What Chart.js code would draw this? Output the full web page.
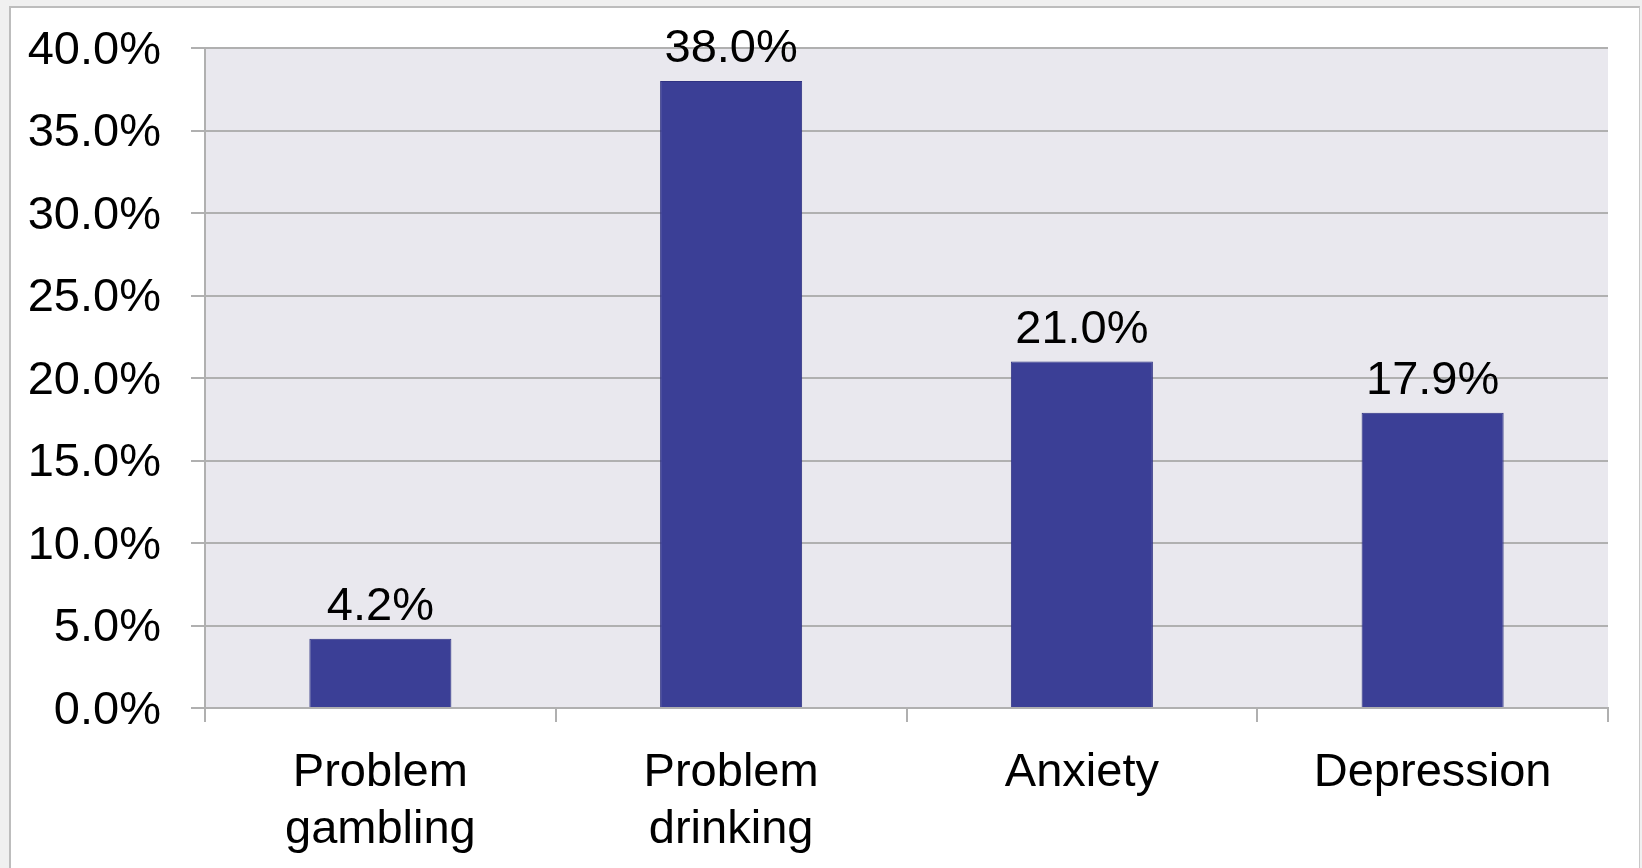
<!DOCTYPE html>
<html>
<head>
<meta charset="utf-8">
<script src="https://cdn.jsdelivr.net/npm/chart.js@4"></script>
<style>
  html, body { margin: 0; padding: 0; background: #f0f0f0; }
  body { width: 1642px; height: 868px; position: relative; overflow: hidden; }
  #panel {
    position: absolute; left: 9px; top: 6px; width: 1631px; height: 862px;
    background: #fff; border-left: 2px solid #bdbdbd; border-top: 2px solid #bdbdbd;
    border-right: 1px solid #c8c8c8; box-sizing: border-box;
  }
  #chart { position: absolute; left: 0; top: 0; }
</style>
</head>
<body>
<div id="panel"></div>
<canvas id="chart" width="1642" height="868"></canvas>
<script>
const categories = [['Problem', 'gambling'], ['Problem', 'drinking'], 'Anxiety', 'Depression'];
const values = [4.2, 38.0, 21.0, 17.9];
const yTicks = [0, 5, 10, 15, 20, 25, 30, 35, 40];

const FONT = '"Liberation Sans", Arial, sans-serif';

// grey plot background
const plotBg = {
    id: 'plotBg',
    beforeDraw(chart) {
        const { ctx, chartArea: a } = chart;
        ctx.save();
        ctx.fillStyle = '#e9e8ee';
        ctx.fillRect(a.left, a.top, a.right - a.left, a.bottom - a.top);
        ctx.restore();
    }
};

// value labels above bars
const barLabels = {
    id: 'barLabels',
    afterDatasetsDraw(chart) {
        const ctx = chart.ctx;
        const meta = chart.getDatasetMeta(0);
        ctx.save();
        ctx.font = '47px ' + FONT;
        ctx.fillStyle = '#000';
        ctx.textAlign = 'center';
        ctx.textBaseline = 'alphabetic';
        meta.data.forEach((bar, i) => {
            ctx.fillText(values[i].toFixed(1) + '%', bar.x, bar.y - 19);
        });
        ctx.restore();
    }
};

new Chart(document.getElementById('chart'), {
    type: 'bar',
    data: {
        labels: categories,
        datasets: [{
            data: values,
            backgroundColor: '#3b3f96',
            borderColor: '#2f3282',
            borderWidth: 1,
            categoryPercentage: 1,
            barPercentage: 0.405
        }]
    },
    options: {
        responsive: false,
        animation: false,
        devicePixelRatio: 1,
        layout: { padding: { top: 48, right: 34, left: 0, bottom: 0 } },
        plugins: { legend: { display: false }, tooltip: { enabled: false } },
        scales: {
            x: {
                grid: {
                    drawOnChartArea: false,
                    drawTicks: true,
                    tickLength: 14,
                    color: '#b0b0b0',
                    lineWidth: 2
                },
                border: { display: true, color: '#b0b0b0', width: 2 },
                ticks: {
                    color: '#000',
                    padding: 22,
                    maxRotation: 0,
                    autoSkip: false,
                    font: { family: FONT, size: 47, lineHeight: 1.22 }
                },
                afterFit(scale) {
                    scale.height = 160;
                    scale.paddingLeft = 0;
                    scale.paddingRight = 0;
                }
            },
            y: {
                min: 0,
                max: 40,
                afterBuildTicks(scale) { scale.ticks = yTicks.map(v => ({ value: v })); },
                grid: { color: '#b0b0b0', lineWidth: 2, tickLength: 14 },
                border: { display: true, color: '#b0b0b0', width: 2 },
                ticks: {
                    color: '#000',
                    padding: 30,
                    labelOffset: 3,
                    font: { family: FONT, size: 47 },
                    callback: v => v.toFixed(1) + '%'
                },
                afterFit(scale) {
                    scale.width = 205;
                    scale.paddingTop = 0;
                    scale.paddingBottom = 0;
                }
            }
        }
    },
    plugins: [plotBg, barLabels]
});
</script>
</body>
</html>
